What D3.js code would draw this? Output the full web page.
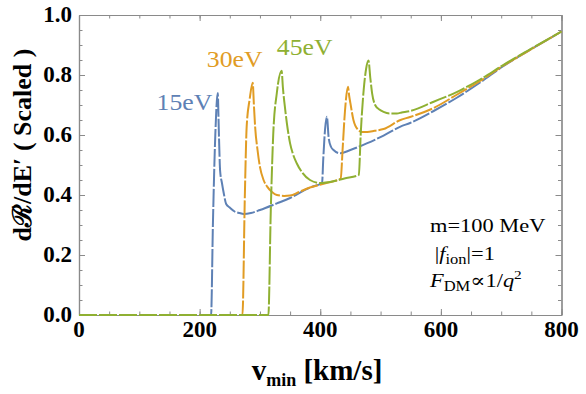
<!DOCTYPE html>
<html>
<head>
<meta charset="utf-8">
<script src="https://cdn.jsdelivr.net/npm/d3@7/dist/d3.min.js"></script>
<style>
  body { margin: 0; background: #fff; }
  text { font-family: "Liberation Serif", "DejaVu Serif", serif; }
</style>
</head>
<body>
<svg id="svg1" width="586" height="394"></svg>
<script>
// velocities (km/s) and scaled rates
var v15 = [0, 219, 222, 226, 230, 232, 234, 237, 240, 244, 250, 258, 266, 273, 285, 300, 328, 350, 383, 403, 405, 408, 411, 414, 418, 422, 433, 450, 477, 505, 533, 549, 588, 627, 665, 704, 743, 800];
var r15 = [0, 0, 0.3, 0.6, 0.74, 0.6, 0.48, 0.44, 0.406, 0.37, 0.358, 0.345, 0.34, 0.337, 0.34, 0.35, 0.372, 0.39, 0.425, 0.44, 0.52, 0.62, 0.661, 0.59, 0.56, 0.55, 0.539, 0.55, 0.572, 0.598, 0.628, 0.64, 0.68, 0.725, 0.775, 0.83, 0.878, 0.945];

var v30 = [0, 271, 275, 278, 283, 288, 290, 292, 296, 300, 306, 312, 320, 328, 340, 350, 365, 383, 410, 434, 437, 441, 446, 448, 450, 455, 463, 470, 478, 490, 505, 533, 549, 588, 627, 665, 704, 743, 800];
var r30 = [0, 0, 0.4, 0.628, 0.72, 0.774, 0.7, 0.628, 0.55, 0.494, 0.45, 0.428, 0.41, 0.4, 0.397, 0.398, 0.41, 0.425, 0.44, 0.455, 0.55, 0.68, 0.761, 0.73, 0.706, 0.65, 0.617, 0.61, 0.61, 0.614, 0.62, 0.65, 0.66, 0.69, 0.735, 0.78, 0.832, 0.878, 0.945];

var v45 = [0, 314, 318, 322, 328, 336, 338, 342, 346, 350, 355, 361, 370, 383, 400, 420, 440, 464, 467, 472, 476, 480, 483, 486, 491, 498, 505, 515, 527, 535, 549, 588, 627, 665, 704, 743, 800];
var r45 = [0, 0, 0.35, 0.6, 0.74, 0.814, 0.76, 0.683, 0.62, 0.572, 0.535, 0.506, 0.475, 0.45, 0.44, 0.445, 0.455, 0.467, 0.6, 0.75, 0.82, 0.848, 0.79, 0.739, 0.7, 0.685, 0.677, 0.672, 0.672, 0.675, 0.68, 0.711, 0.744, 0.785, 0.834, 0.88, 0.945];

var seriesNames = ['15eV', '30eV', '45eV'];
var xTicks = [0, 200, 400, 600, 800];
var yTicks = [0, 0.2, 0.4, 0.6, 0.8, 1.0];

var colors = ['#5e81b5', '#e19c24', '#8fb032'];

var pLeft = 79, pRight = 561.5, pTop = 15, pBottom = 315;

var svg = d3.select('#svg1');

var x = d3.scaleLinear().domain([0, 800]).range([pLeft, pRight]);
var y = d3.scaleLinear().domain([0, 1]).range([pBottom, pTop]);

var minorX = d3.range(0, 801, 50);
var minorY = d3.range(0, 1.001, 0.05);

// frame with inward ticks on all four sides
function styleAxis(g) {
  g.select('.domain').attr('stroke', '#8a8a8a').attr('stroke-width', 1.2);
  g.selectAll('.tick line').attr('stroke', '#8a8a8a').attr('stroke-width', 1);
}

svg.append('g').attr('transform', 'translate(0,' + pBottom + ')')
  .call(d3.axisBottom(x).tickValues(minorX).tickSize(-3.5).tickFormat('').tickSizeOuter(0)).call(styleAxis);
svg.append('g').attr('transform', 'translate(0,' + pBottom + ')')
  .call(d3.axisBottom(x).tickValues(xTicks).tickSize(-6).tickFormat('').tickSizeOuter(0)).call(styleAxis);
svg.append('g').attr('transform', 'translate(0,' + pTop + ')')
  .call(d3.axisTop(x).tickValues(minorX).tickSize(-3.5).tickFormat('').tickSizeOuter(0)).call(styleAxis);
svg.append('g').attr('transform', 'translate(0,' + pTop + ')')
  .call(d3.axisTop(x).tickValues(xTicks).tickSize(-6).tickFormat('').tickSizeOuter(0)).call(styleAxis);
svg.append('g').attr('transform', 'translate(' + pLeft + ',0)')
  .call(d3.axisLeft(y).tickValues(minorY).tickSize(-3.5).tickFormat('').tickSizeOuter(0)).call(styleAxis);
svg.append('g').attr('transform', 'translate(' + pLeft + ',0)')
  .call(d3.axisLeft(y).tickValues(yTicks).tickSize(-6).tickFormat('').tickSizeOuter(0)).call(styleAxis);
svg.append('g').attr('transform', 'translate(' + pRight + ',0)')
  .call(d3.axisRight(y).tickValues(minorY).tickSize(-3.5).tickFormat('').tickSizeOuter(0)).call(styleAxis);
svg.append('g').attr('transform', 'translate(' + pRight + ',0)')
  .call(d3.axisRight(y).tickValues(yTicks).tickSize(-6).tickFormat('').tickSizeOuter(0)).call(styleAxis);

// tick labels
svg.selectAll('.xlab').data(xTicks).enter().append('text')
  .attr('class', 'xlab')
  .attr('x', function(d) { return x(d); })
  .attr('y', pBottom + 22)
  .attr('text-anchor', 'middle')
  .attr('font-weight', 'bold').attr('font-size', 23)
  .text(function(d) { return d; });

svg.selectAll('.ylab').data(yTicks).enter().append('text')
  .attr('class', 'ylab')
  .attr('x', pLeft - 7)
  .attr('y', function(d) { return y(d) + 7; })
  .attr('text-anchor', 'end')
  .attr('font-weight', 'bold').attr('font-size', 23)
  .text(function(d) { return d.toFixed(1); });

// axis titles
var xt = svg.append('text')
  .attr('x', 317).attr('y', 380)
  .attr('text-anchor', 'middle')
  .attr('font-weight', 'bold').attr('font-size', 29);
xt.append('tspan').text('v');
xt.append('tspan').attr('font-size', 18).attr('dy', 6).text('min');
xt.append('tspan').attr('dy', -6).text(' [km/s]');

svg.append('text')
  .attr('transform', 'translate(31,145) rotate(-90)')
  .attr('text-anchor', 'middle')
  .attr('font-weight', 'bold').attr('font-size', 26)
  .text('d\u211B/dE\u2032 ( Scaled )');

// curves
var line = d3.line()
  .x(function(d) { return x(d[0]); })
  .y(function(d) { return y(d[1]); })
  .curve(d3.curveMonotoneX);

var series = [d3.zip(v15, r15), d3.zip(v30, r30), d3.zip(v45, r45)];

svg.selectAll('.curve').data(series).enter().append('path')
  .attr('class', 'curve')
  .attr('d', line)
  .attr('fill', 'none')
  .attr('stroke', function(d, i) { return colors[i]; })
  .attr('stroke-width', 2)
  .attr('stroke-dasharray', '18,2');

// curve labels (stretched a little sideways like the original)
var labelAt = [[221, 0.683, 'end'], [212, 0.828, 'start'], [328, 0.866, 'start']];
svg.selectAll('.clab').data(seriesNames).enter().append('text')
  .attr('class', 'clab')
  .attr('transform', function(d, i) {
    return 'translate(' + x(labelAt[i][0]) + ',' + y(labelAt[i][1]) + ') scale(1.12,1)';
  })
  .attr('text-anchor', function(d, i) { return labelAt[i][2]; })
  .attr('font-size', 23)
  .attr('fill', function(d, i) { return colors[i]; })
  .text(function(d) { return d; });

// annotation
var note = svg.append('g').attr('transform', 'translate(430,0) scale(1.18,1)');
note.append('text').attr('x', 0).attr('y', 232).attr('font-size', 19).text('m=100 MeV');

var t2 = note.append('text').attr('x', 4).attr('y', 260).attr('font-size', 19);
t2.append('tspan').text('|');
t2.append('tspan').attr('font-style', 'italic').text('f');
t2.append('tspan').attr('font-size', 14).attr('dy', 4).text('ion');
t2.append('tspan').attr('dy', -4).text('|=1');

var t3 = note.append('text').attr('x', 0).attr('y', 287).attr('font-size', 19);
t3.append('tspan').attr('font-style', 'italic').text('F');
t3.append('tspan').attr('font-size', 14).attr('dy', 4).text('DM');
t3.append('tspan').attr('dy', -4).text('\u221D1/');
t3.append('tspan').attr('font-style', 'italic').text('q');
t3.append('tspan').attr('font-size', 13).attr('dy', -8).text('2');
</script>
</body>
</html>
